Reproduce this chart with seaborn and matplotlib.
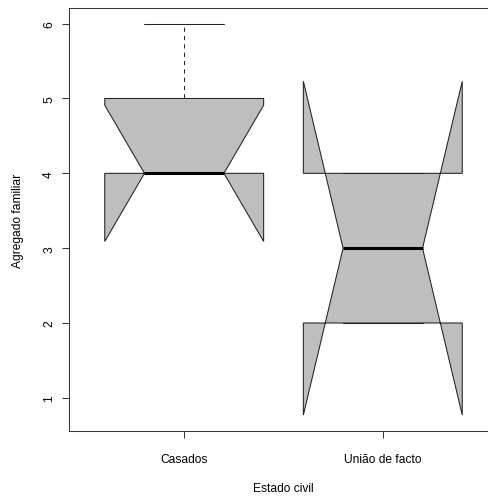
import matplotlib
matplotlib.use("Agg")
import matplotlib.pyplot as plt
import seaborn as sns

# ---- data ----
categories = ["Casados", "União de facto"]
q1_vals = [4, 2]
median_vals = [4, 3]
q3_vals = [5, 4]
whisker_low = [4, 2]
whisker_high = [6, 4]
notch_low = [3.09, 0.77]
notch_high = [4.91, 5.23]
y_ticks = [1, 2, 3, 4, 5, 6]

sns.set_theme(style="white")
plt.rcParams["font.family"] = ["Liberation Sans", "DejaVu Sans"]

W, H = 489, 502
fig = plt.figure(figsize=(W / 100, H / 100), dpi=100)
ax_left, ax_right, ax_top, ax_bottom = 69, 498, 9, 432
ax = fig.add_axes([ax_left / W, (H - ax_bottom) / H,
                   (ax_right - ax_left) / W, (ax_bottom - ax_top) / H])

stats = []
for i, cat in enumerate(categories):
    stats.append(dict(label=cat, q1=q1_vals[i], med=median_vals[i], q3=q3_vals[i],
                      whislo=whisker_low[i], whishi=whisker_high[i],
                      cilo=notch_low[i], cihi=notch_high[i], fliers=[]))

lw = 0.75
ax.bxp(stats, positions=[1, 2], widths=0.8, shownotches=True, patch_artist=True,
       showfliers=False, manage_ticks=False,
       boxprops=dict(facecolor="#BEBEBE", edgecolor="#222222", linewidth=lw),
       medianprops=dict(color="black", linewidth=2.2, solid_capstyle="butt"),
       whiskerprops=dict(color="#222222", linewidth=lw, linestyle=(0, (4, 4))),
       capprops=dict(color="#222222", linewidth=lw))

ax.set_xlim(0.42, 2.58)
ax.set_ylim(0.557, 6.209)
ax.set_xticks([1, 2])
ax.set_xticklabels(categories)
ax.set_yticks(y_ticks)
ax.set_yticklabels([str(t) for t in y_ticks], rotation=90, va="center")

for s in ax.spines.values():
    s.set_visible(True)
    s.set_color("#333333")
    s.set_linewidth(lw)

fs = 8.64
ax.tick_params(axis="both", which="both", direction="out", length=5.04, width=lw,
               color="#333333", labelsize=fs, labelcolor="black",
               bottom=True, left=True, top=False, right=False)
ax.tick_params(axis="x", pad=11)
ax.tick_params(axis="y", pad=5)
ax.grid(False)

ax.set_xlabel("Estado civil", fontsize=fs, color="black")
ax.set_ylabel("Agregado familiar", fontsize=fs, color="black")
ax.xaxis.set_label_coords(0.5, (ax_bottom - 489) / (ax_bottom - ax_top))
ax.xaxis.label.set_va("center")
ax.yaxis.set_label_coords((18 - ax_left) / (ax_right - ax_left), 0.5)
ax.yaxis.label.set_va("center")

fig.savefig("out.png", dpi=100, facecolor="white")
